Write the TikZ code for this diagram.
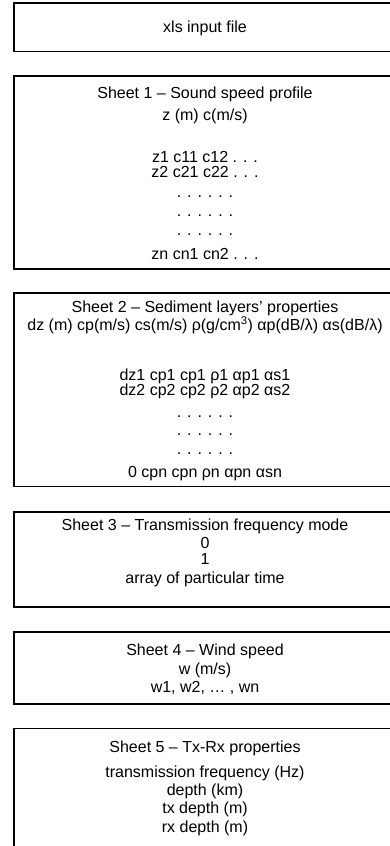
\documentclass[tikz,border=0pt]{standalone}
\usepackage{fontspec}
\setmainfont{Liberation Sans}
\begin{document}
\begin{tikzpicture}[x=1pt,y=-1pt,
  sheetbox/.style={draw=black,line width=1.3pt},
  txt/.style={anchor=base,inner sep=0pt,font=\fontsize{16}{19}\selectfont}]
\useasboundingbox (0,0) rectangle (390,846);
\clip (0,0) rectangle (390,846);
% frames
\draw[sheetbox] (14,3) rectangle (396,51.5);
\draw[sheetbox] (14,76) rectangle (396,269);
\draw[sheetbox] (14,293) rectangle (396,486.5);
\draw[sheetbox] (14,512) rectangle (396,607);
\draw[sheetbox] (14,632) rectangle (396,704);
\draw[sheetbox] (14,728.5) rectangle (396,870);
% input file
\node[txt] (xls) at (205,32.5) {xls input file};
% sheet 1
\node[txt] (s1t) at (205,98.5) {Sheet 1 -- Sound speed profile};
\node[txt] (s1h) at (205,120.5) {z (m) c(m/s)};
\node[txt] (s1a) at (205,162.5) {z1 c11 c12 . . .};
\node[txt] (s1b) at (205,177.5) {z2 c21 c22 . . .};
\node[txt] (s1c) at (205,197) {. . . . . .};
\node[txt] (s1d) at (205,216) {. . . . . .};
\node[txt] (s1e) at (205,235) {. . . . . .};
\node[txt] (s1n) at (205,259) {zn cn1 cn2 . . .};
% sheet 2
\node[txt] (s2t) at (205,312.5) {Sheet 2 -- Sediment layers' properties};
\node[txt] (s2h) at (205,330.5) {dz (m) cp(m/s) cs(m/s) ρ(g/cm\textsuperscript{3}) αp(dB/λ) αs(dB/λ)};
\node[txt] (s2a) at (205,380.5) {dz1 cp1 cp1 ρ1 αp1 αs1};
\node[txt] (s2b) at (205,395.5) {dz2 cp2 cp2 ρ2 αp2 αs2};
\node[txt] (s2c) at (205,417) {. . . . . .};
\node[txt] (s2d) at (205,435) {. . . . . .};
\node[txt] (s2e) at (205,454) {. . . . . .};
\node[txt] (s2n) at (205,477.5) {0 cpn cpn ρn αpn αsn};
% sheet 3
\node[txt] (s3t) at (205,530.5) {Sheet 3 -- Transmission frequency mode};
\node[txt] (s3a) at (205,548.5) {0};
\node[txt] (s3b) at (205,564.5) {1};
\node[txt] (s3c) at (205,583.5) {array of particular time};
% sheet 4
\node[txt] (s4t) at (205,655.5) {Sheet 4 -- Wind speed};
\node[txt] (s4a) at (205,674.5) {w (m/s)};
\node[txt] (s4b) at (205,692) {w1, w2, … , wn};
% sheet 5
\node[txt] (s5t) at (205,752) {Sheet 5 -- Tx-Rx properties};
\node[txt] (s5a) at (205,777) {transmission frequency (Hz)};
\node[txt] (s5b) at (205,795) {depth (km)};
\node[txt] (s5c) at (205,813.5) {tx depth (m)};
\node[txt] (s5d) at (205,832.5) {rx depth (m)};
\end{tikzpicture}
\end{document}
